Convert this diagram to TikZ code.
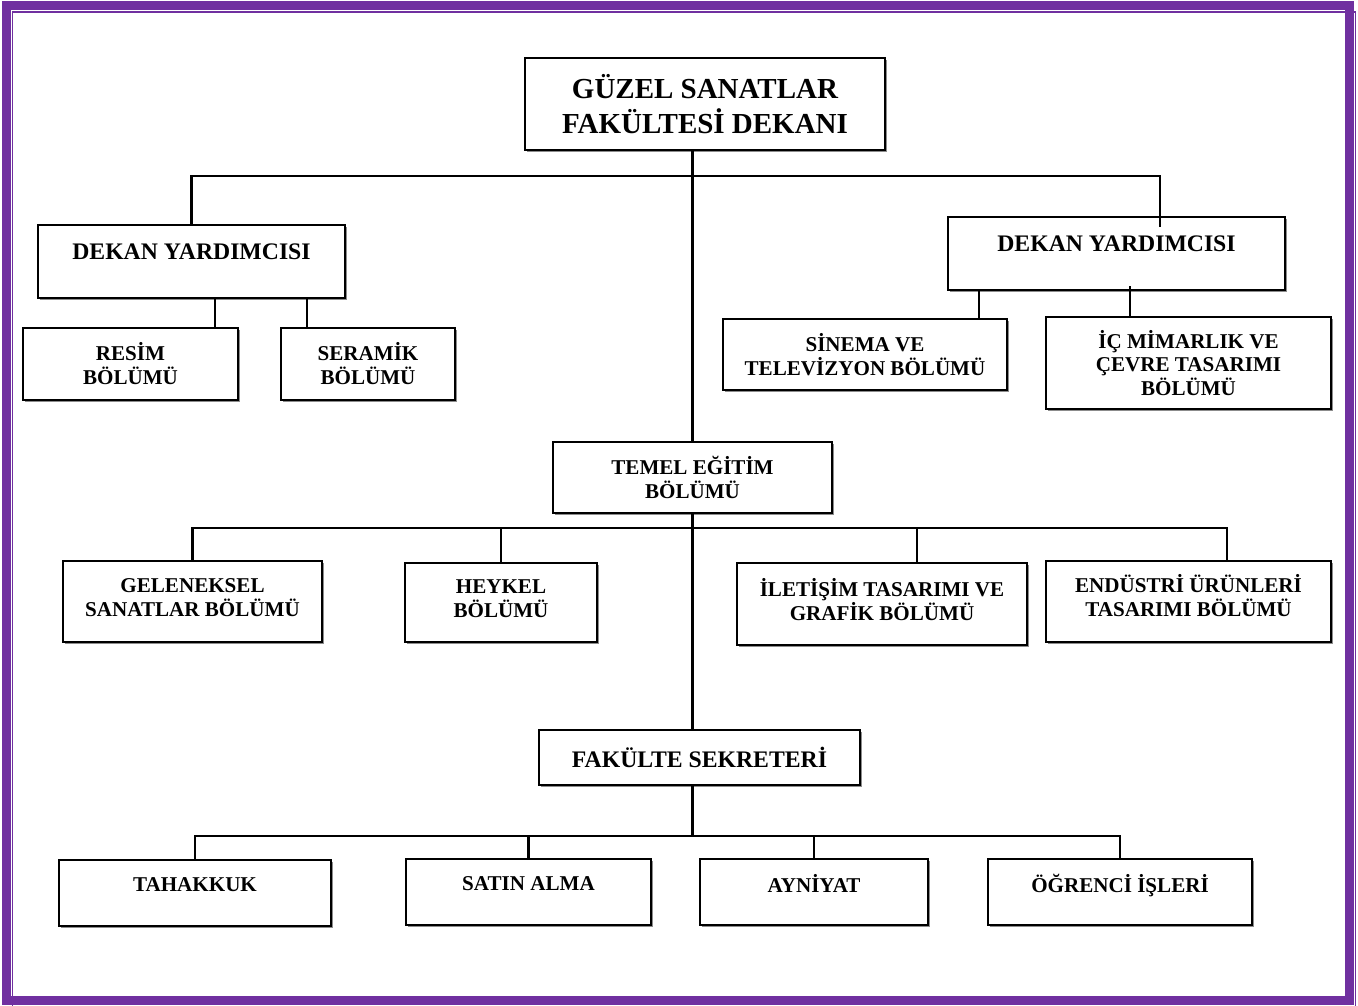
\documentclass[tikz,border=0pt]{standalone}
\usepackage{fontspec}
\setmainfont{Liberation Serif}
\usetikzlibrary{positioning, calc, shadows}
\definecolor{framepurple}{HTML}{7030A0}

\begin{document}
\begin{tikzpicture}[
    x=0.02cm, y=-0.02cm,
    box/.style={rectangle, draw, fill=white, line width=1.2pt, align=center, inner sep=1pt,
        font=\bfseries\fontsize{12}{13.6}\selectfont,
        drop shadow={shadow xshift=1.1pt, shadow yshift=-1.1pt, fill=black!45, opacity=1}},
    boxsize/.style 2 args={minimum width=#1*0.02cm, minimum height=#2*0.02cm},
    big/.style={font=\bfseries\fontsize{13.5}{15.5}\selectfont},
    lift/.style={text depth=#1},
    link/.style={line width=1.3pt, line cap=rect}
]
    \useasboundingbox (0,0) rectangle (1358,1005);
    % page frame
    \draw[framepurple, line width=0.18cm] (6.5,5) rectangle (1349,1000.5);
    \draw[framepurple, line width=0.036cm] (12.5,11.8) rectangle (1355.5,1012);

    \node[box, boxsize={360}{92}, font=\bfseries\fontsize{16.5}{19.5}\selectfont] (dekan) at (705,104) {GÜZEL SANATLAR\\FAKÜLTESİ DEKANI};
    \node[box, boxsize={307}{73}, big, lift=11pt] (yrdA) at (191.5,261.5) {DEKAN YARDIMCISI};
    \node[box, boxsize={337}{73}, big, lift=11pt] (yrdB) at (1116.5,253.5) {DEKAN YARDIMCISI};
    \node[box, boxsize={215}{72}] (resim) at (130.5,364) {RESİM\\BÖLÜMÜ};
    \node[box, boxsize={174}{72}] (seramik) at (368,364) {SERAMİK\\BÖLÜMÜ};
    \node[box, boxsize={284}{71}] (sinema) at (865,354.5) {SİNEMA VE\\TELEVİZYON BÖLÜMÜ};
    \node[box, boxsize={285}{92}] (icmim) at (1188.5,363) {İÇ MİMARLIK VE\\ÇEVRE TASARIMI\\BÖLÜMÜ};
    \node[box, boxsize={279}{71}] (temel) at (692.5,477.5) {TEMEL EĞİTİM\\BÖLÜMÜ};
    \node[box, boxsize={259}{81}, lift=5pt] (gelen) at (192.5,601.5) {GELENEKSEL\\SANATLAR BÖLÜMÜ};
    \node[box, boxsize={192}{79}, lift=4pt] (heykel) at (501,602.5) {HEYKEL\\BÖLÜMÜ};
    \node[box, boxsize={290}{82}, lift=5.5pt] (ileti) at (882,604) {İLETİŞİM TASARIMI VE\\GRAFİK BÖLÜMÜ};
    \node[box, boxsize={285}{81}, lift=6.5pt] (endus) at (1188.5,601.5) {ENDÜSTRİ ÜRÜNLERİ\\TASARIMI BÖLÜMÜ};
    \node[box, boxsize={321}{55}, big] (sekr) at (699.5,757.5) {FAKÜLTE SEKRETERİ};
    \node[box, boxsize={272}{66}, lift=10pt] (tahak) at (195,893) {TAHAKKUK};
    \node[box, boxsize={245}{66}, lift=10pt] (satin) at (528.5,892) {SATIN ALMA};
    \node[box, boxsize={228}{66}, lift=10pt] (ayni) at (814,892) {AYNİYAT};
    \node[box, boxsize={264}{66}, lift=10pt] (ogr) at (1120,892) {ÖĞRENCİ İŞLERİ};

    % main line
    \coordinate (busA) at ($(dekan.south -| temel)+(0,25)$);
    \coordinate (busB) at ($(temel.south)+(0,14)$);
    \coordinate (busC) at ($(sekr.south -| temel.south)+(0,50)$);
    \draw[link] (dekan.south -| temel) -- (temel.north);
    \draw[link] (temel.south) -- (temel.south |- sekr.north);
    \draw[link] (sekr.south -| temel.south) -- (busC);

    % deputies
    \draw[link] (yrdA.north) |- (busA) -| ($(yrdB.north)+(43.5,10)$);
    \draw[link] ($(yrdA.south)+(23.5,0)$) coordinate (t) -- (t |- resim.north);
    \draw[link] ($(yrdA.south)+(115.5,0)$) coordinate (t) -- (t |- seramik.north);
    \draw[link] ($(yrdB.south)+(-137.5,0)$) coordinate (t) -- (t |- sinema.north);
    \draw[link] ($(yrdB.south)+(13.5,-4)$) coordinate (t) -- (t |- icmim.north);

    % departments
    \draw[link] (gelen.north) |- (busB) -| ($(endus.north)+(38.5,0)$);
    \draw[link] (heykel.north) -- (heykel.north |- busB);
    \draw[link] ($(ileti.north)+(35,0)$) coordinate (t) -- (t |- busB);

    % secretary units
    \draw[link] (tahak.north) |- (busC) -| (ogr.north);
    \draw[link] (satin.north) -- (satin.north |- busC);
    \draw[link] (ayni.north) -- (ayni.north |- busC);
\end{tikzpicture}
\end{document}
